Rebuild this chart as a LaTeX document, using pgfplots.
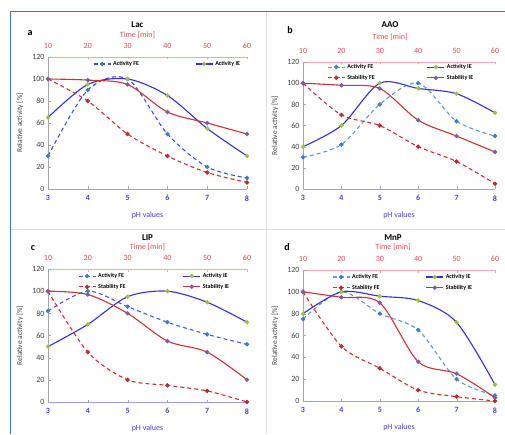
\documentclass[border=0pt]{standalone}
\usepackage{fontspec}
\setmainfont{Carlito}
\usepackage{pgfplots}
\pgfplotsset{compat=1.18}
\definecolor{frameblue}{HTML}{4472C4}
\definecolor{phblue}{HTML}{4040F0}
\definecolor{phline}{HTML}{9C9CF5}
\definecolor{timered}{HTML}{E04A4A}
\definecolor{timeline}{HTML}{F2A8A8}
\definecolor{actFEa}{HTML}{3550E0}
\definecolor{actFEb}{HTML}{5B9BD5}
\definecolor{actFEmark}{HTML}{3C7DC4}
\definecolor{actIE}{HTML}{2E2EEB}
\definecolor{actIEmark}{HTML}{9BC53D}
\definecolor{stabFE}{HTML}{D92B2B}
\definecolor{stabFEmark}{HTML}{C0282B}
\definecolor{stabIE}{HTML}{CC3333}
\definecolor{stabIEmark}{HTML}{7B5EA7}
\pgfplotsset{
  phaxis/.style={scale only axis, xmin=3, xmax=8, ymin=0, ymax=120,
    xtick={3,4,5,6,7,8}, ytick={0,20,...,120},
    axis x line*=bottom, axis y line*=left,
    x axis line style={draw=phline, line width=0.9pt},
    y axis line style={draw=gray!70, line width=0.9pt},
    xticklabel style={text=phblue, font=\fontsize{8}{9}\selectfont\bfseries, yshift=-3pt},
    yticklabel style={text=black!75, font=\fontsize{8}{9}\selectfont},
    xtick style={draw=phline}, ytick style={draw=gray!70},
    major tick length=2.5pt, tick align=inside,
    xlabel={pH values},
    xlabel style={at={(0.5,0)}, anchor=center, yshift=-26pt, text=phblue, font=\fontsize{8}{9}\selectfont},
    ylabel={Relative activity [\%]},
    ylabel style={at={(0,0.5)}, anchor=center, yshift=28pt, font=\fontsize{7.5}{9}\selectfont, text=black!75},
    /pgf/number format/assume math mode=true,
    legend columns=2,
    legend style={draw=none, fill=none, font=\fontsize{6}{7}\selectfont\bfseries, anchor=north west,
      row sep=1pt, inner sep=0pt},
    legend cell align=left,
    clip mode=individual},
  timeaxis/.style={scale only axis, xmin=10, xmax=60, xtick={10,20,...,60}, ymin=0, ymax=120,
    axis x line*=top, axis y line=none,
    x axis line style={draw=timeline, line width=0.9pt},
    xticklabel style={text=timered, font=\fontsize{8}{9}\selectfont, yshift=5pt},
    xtick style={draw=timeline}, major tick length=2.5pt, tick align=inside,
    /pgf/number format/assume math mode=true,
    xlabel={Time [min]},
    title style={font=\fontsize{9}{10}\selectfont\bfseries, anchor=center}},
  actFE/.style={color=#1, line width=1.1pt, dash pattern=on 4pt off 3pt, smooth, tension=0.5,
    mark=*, mark size=1.6pt, mark options={solid, fill=actFEmark, draw=actFEmark}},
  actIE/.style={color=actIE, line width=1.1pt, smooth, tension=0.5,
    mark=*, mark size=1.6pt, mark options={solid, fill=actIEmark, draw=actIEmark}},
  stabFE/.style={color=stabFE, line width=1.1pt, dash pattern=on 4pt off 3pt, smooth, tension=0.5,
    mark=*, mark size=1.6pt, mark options={solid, fill=stabFEmark, draw=stabFEmark}},
  stabIE/.style={color=stabIE, line width=1.1pt, smooth, tension=0.5,
    mark=*, mark size=1.6pt, mark options={solid, fill=stabIEmark, draw=stabIEmark}},
}
\begin{document}
\begin{tikzpicture}[x=1pt,y=1pt]
\path[use as bounding box] (0,0) rectangle (505,434);
\draw[gray!25, line width=0.8pt] (266,0) -- (266,423);
\draw[gray!25, line width=0.8pt] (10,205) -- (505,205);
\draw[frameblue, line width=0.9pt] (10,0) -- (10,423) -- (505,423);

% ---------- panel a ----------
\begin{axis}[timeaxis, at={(48pt,245pt)}, anchor=south west, width=199pt, height=132pt,
  xlabel style={at={(0.5,1)}, anchor=center, yshift=22pt, xshift=-10pt, text=timered, font=\fontsize{8}{9}\selectfont},
  title={Lac}, title style={at={(0.5,1)}, yshift=26pt, xshift=-10pt}]
\end{axis}
\begin{axis}[phaxis, at={(48pt,245pt)}, anchor=south west, width=199pt, height=132pt,
  legend style={at={(0.225,0.985)}, /tikz/every even column/.append style={column sep=54pt}}]
\addplot[actFE=actFEa] coordinates {(3,30)(4,90)(5,100)(6,50)(7,20)(8,10)};
\addlegendentry{Activity FE}
\addplot[actIE] coordinates {(3,65)(4,95)(5,100)(6,85)(7,55)(8,30)};
\addlegendentry{Activity IE}
\addplot[stabFE, forget plot] coordinates {(3,100)(4,80)(5,50)(6,30)(7,15)(8,6)};
\addplot[stabIE, forget plot] coordinates {(3,100)(4,99)(5,95)(6,70)(7,60)(8,50)};
\end{axis}
\node[font=\fontsize{10}{11}\selectfont\bfseries] at (30,401) {a};

% ---------- panel b ----------
\begin{axis}[timeaxis, at={(303pt,245pt)}, anchor=south west, width=192pt, height=127pt,
  xlabel style={at={(0.5,1)}, anchor=center, yshift=25pt, xshift=-9pt, text=timered, font=\fontsize{8}{9}\selectfont},
  title={AAO}, title style={at={(0.5,1)}, yshift=31pt, xshift=-9pt}]
\end{axis}
\begin{axis}[phaxis, at={(303pt,245pt)}, anchor=south west, width=192pt, height=127pt,
  legend style={at={(0.125,1.0)}, /tikz/every even column/.append style={column sep=50pt}}]
\addplot[actFE=actFEb] coordinates {(3,30)(4,42)(5,80)(6,100)(7,64)(8,50)};
\addlegendentry{Activity FE}
\addplot[actIE] coordinates {(3,40)(4,60)(5,100)(6,95)(7,90)(8,72)};
\addlegendentry{Activity IE}
\addplot[stabFE] coordinates {(3,100)(4,70)(5,60)(6,40)(7,26)(8,5)};
\addlegendentry{Stability FE}
\addplot[stabIE] coordinates {(3,100)(4,98)(5,95)(6,65)(7,50)(8,35)};
\addlegendentry{Stability IE}
\end{axis}
\node[font=\fontsize{10}{11}\selectfont\bfseries] at (290,404) {b};

% ---------- panel c ----------
\begin{axis}[timeaxis, at={(48pt,32pt)}, anchor=south west, width=199pt, height=133pt,
  xlabel style={at={(0.5,1)}, anchor=center, yshift=22pt, xshift=0pt, text=timered, font=\fontsize{8}{9}\selectfont},
  title={LIP}, title style={at={(0.5,1)}, yshift=25pt, xshift=0pt}]
\end{axis}
\begin{axis}[phaxis, at={(48pt,32pt)}, anchor=south west, width=199pt, height=133pt,
  legend style={at={(0.15,0.985)}, /tikz/every even column/.append style={column sep=55pt}}]
\addplot[actFE=actFEa!80!actFEb] coordinates {(3,82)(4,100)(5,86)(6,72)(7,61)(8,52)};
\addlegendentry{Activity FE}
\addplot[actIE] coordinates {(3,50)(4,70)(5,95)(6,100)(7,90)(8,72)};
\addlegendentry{Activity IE}
\addplot[stabFE] coordinates {(3,100)(4,45)(5,20)(6,15)(7,10)(8,0)};
\addlegendentry{Stability FE}
\addplot[stabIE] coordinates {(3,100)(4,97)(5,80)(6,55)(7,45)(8,20)};
\addlegendentry{Stability IE}
\end{axis}
\node[font=\fontsize{10}{11}\selectfont\bfseries] at (33,186) {c};

% ---------- panel d ----------
\begin{axis}[timeaxis, at={(303pt,33pt)}, anchor=south west, width=192pt, height=131pt,
  xlabel style={at={(0.5,1)}, anchor=center, yshift=23pt, xshift=-6pt, text=timered, font=\fontsize{8}{9}\selectfont},
  title={MnP}, title style={at={(0.5,1)}, yshift=26pt, xshift=-6pt}]
\end{axis}
\begin{axis}[phaxis, at={(303pt,33pt)}, anchor=south west, width=192pt, height=131pt,
  legend style={at={(0.15,0.985)}, /tikz/every even column/.append style={column sep=44pt}}]
\addplot[actFE=actFEb] coordinates {(3,75)(4,100)(5,80)(6,65)(7,20)(8,5)};
\addlegendentry{Activity FE}
\addplot[actIE] coordinates {(3,80)(4,100)(5,96)(6,92)(7,72)(8,15)};
\addlegendentry{Activity IE}
\addplot[stabFE] coordinates {(3,100)(4,50)(5,30)(6,10)(7,4)(8,0)};
\addlegendentry{Stability FE}
\addplot[stabIE] coordinates {(3,100)(4,95)(5,90)(6,36)(7,25)(8,3)};
\addlegendentry{Stability IE}
\end{axis}
\node[font=\fontsize{10}{11}\selectfont\bfseries] at (287,187) {d};
\end{tikzpicture}
\end{document}
